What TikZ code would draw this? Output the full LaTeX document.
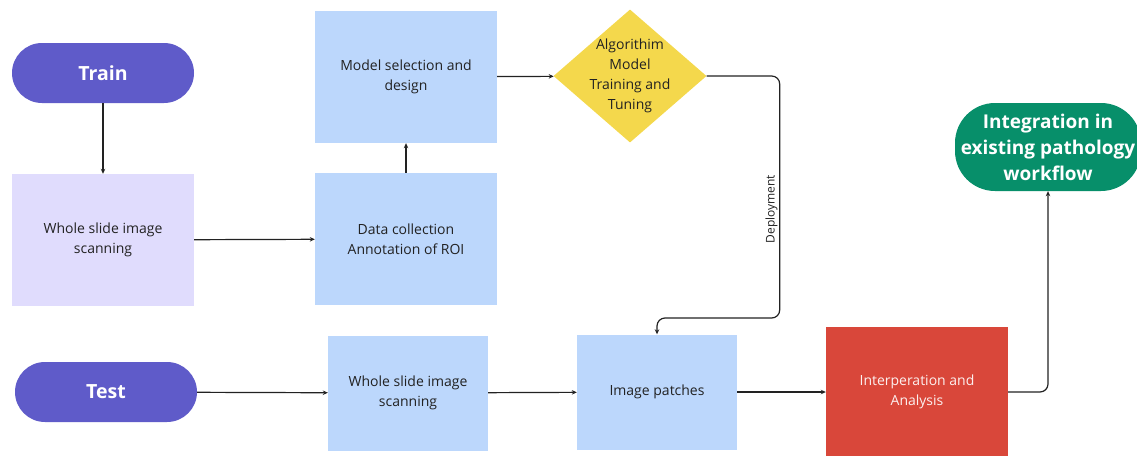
\documentclass[tikz,border=0pt]{standalone}
\usepackage{fontspec}
\setmainfont{Open Sans}
\usetikzlibrary{shapes.geometric,arrows.meta}

\definecolor{pillpurple}{HTML}{5F5BC9}
\definecolor{lavender}{HTML}{E0DCFD}
\definecolor{skyblue}{HTML}{BCD7FC}
\definecolor{sunyellow}{HTML}{F4D84C}
\definecolor{brickred}{HTML}{D9473A}
\definecolor{teal}{HTML}{078F6A}
\definecolor{inkgray}{HTML}{222222}

\tikzset{
  base/.style={draw=none, align=center, inner sep=2pt, text=inkgray,
    font=\fontsize{14}{20}\selectfont},
  pill/.style={base, fill=pillpurple, text=white, rounded corners=30pt,
    minimum width=182pt, minimum height=60pt,
    font=\fontsize{19.5}{24}\selectfont\bfseries},
  wide box/.style={base, minimum width=182pt, minimum height=132pt},
  small box/.style={base, fill=skyblue, minimum width=160pt, minimum height=115pt},
  decision/.style={base, diamond, fill=sunyellow, inner sep=-10pt,
    minimum width=153pt, minimum height=133pt},
  flow/.style={draw=inkgray, line width=1.2pt,
    -{Stealth[length=5pt,width=4.5pt]}},
}

\begin{document}
\begin{tikzpicture}[x=1pt,y=-1pt]
\useasboundingbox (0,0) rectangle (1137,455);

% training branch
\node[pill] (train) at (103,73) {Train};
\node[wide box, fill=lavender] (wsitrain) at (103,240) {Whole slide image\\scanning};
\node[wide box, fill=skyblue] (data) at (406,239) {Data collection\\Annotation of ROI};
\node[wide box, fill=skyblue] (model) at (406,77) {Model selection and\\design};
\node[decision] (algo) at (630,76) {Algorithim\\Model\\Training and\\Tuning};

% test branch
\node[pill] (test) at (106,392) {Test};
\node[small box] (wsitest) at (408,393) {Whole slide image\\scanning};
\node[small box] (patches) at (657,392) {Image patches};
\node[base, fill=brickred, text=white!92!brickred, minimum width=182pt,
      minimum height=130pt] (interp) at (917,392) {Interperation and\\Analysis};
\node[base, fill=teal, text=white, rounded corners=40pt, minimum width=186pt,
      minimum height=88pt, font=\fontsize{19}{26}\selectfont\bfseries]
      (integ) at (1048,147) {Integration in\\existing pathology\\workflow};

% connectors
\draw[flow] (train) -- (wsitrain);
\draw[flow] (wsitrain) -- (data);
\draw[flow] (data) -- (model);
\draw[flow] (model) -- (algo);
\draw[flow, rounded corners=8pt] (algo.east) -- ++(73,0) coordinate (bend)
  -- node[pos=0.55, rotate=90, anchor=south, inner sep=1.5pt, text=inkgray,
          font=\fontsize{12}{14}\selectfont] {Deployment}
  (bend |- 0,318) -- (patches.north |- 0,318) -- (patches.north);
\draw[flow] (test) -- (wsitest);
\draw[flow] (wsitest) -- (patches);
\draw[flow] (patches) -- (interp);
\draw[flow, rounded corners=8pt] (interp.east) -| (integ.south);
\end{tikzpicture}
\end{document}
